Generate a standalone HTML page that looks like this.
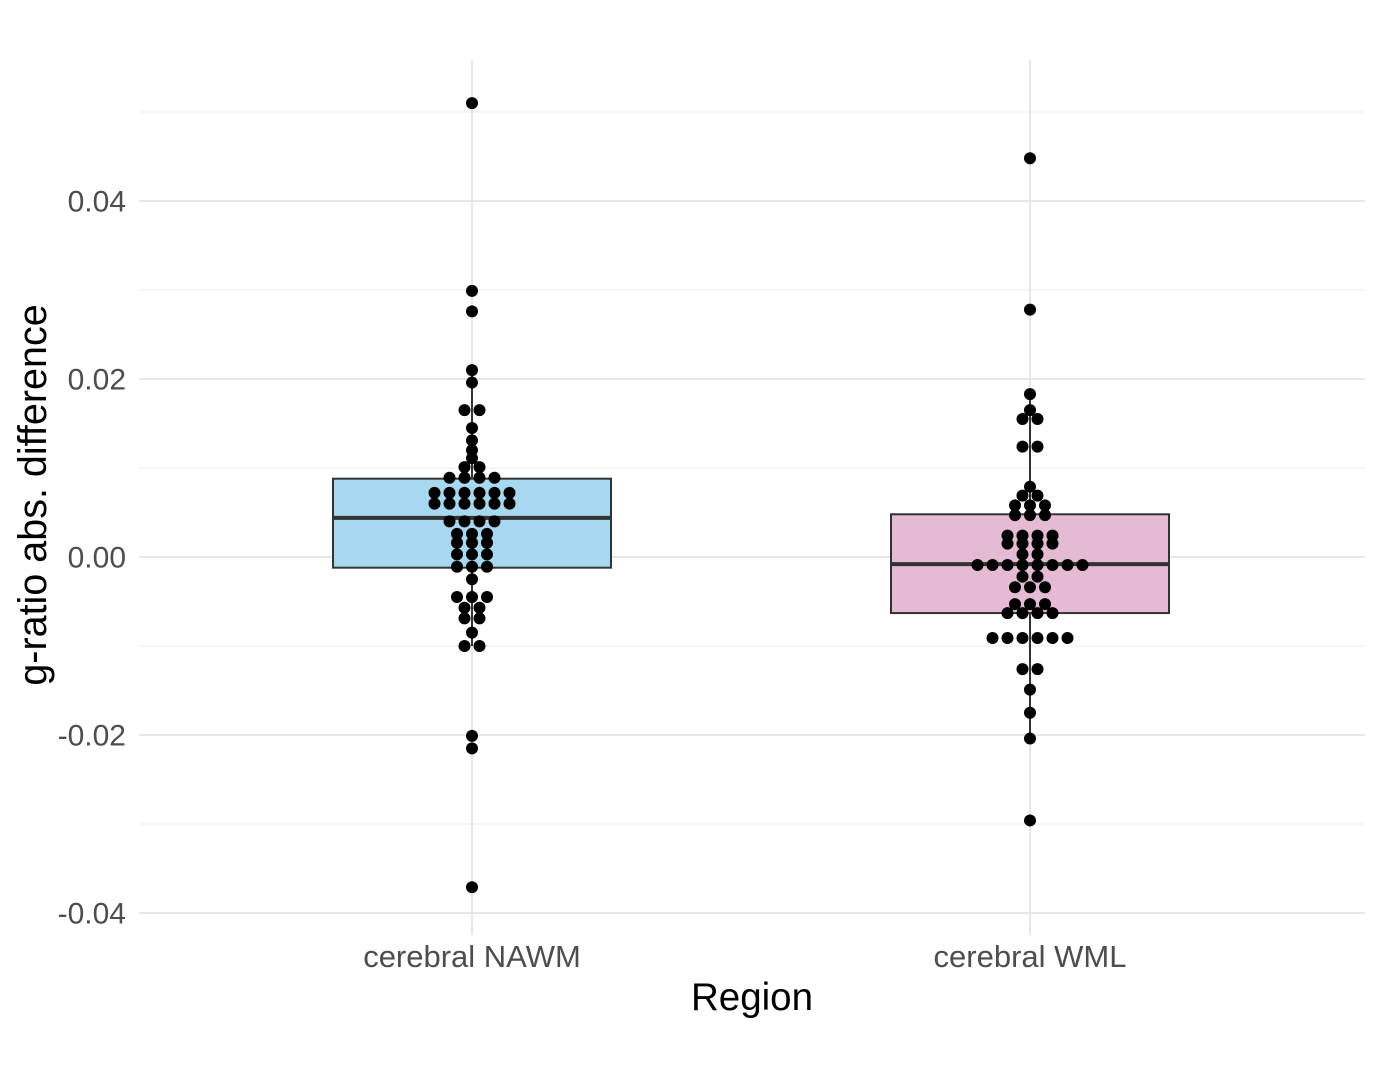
<!DOCTYPE html>
<html><head><meta charset="utf-8"><style>
html,body{margin:0;padding:0;background:#fff;}
svg{display:block;font-family:"Liberation Sans",Arial,sans-serif;}
</style></head><body>
<svg id="chart" width="1379" height="1086" viewBox="0 0 1379 1086"></svg>
<script>
const categories = ["cerebral NAWM", "cerebral WML"];
const boxFill = ["#a7d8f0", "#e5bbd3"];
const q1 = [-0.0012, -0.0063];
const medians = [0.0044, -0.0008];
const q3 = [0.0088, 0.0048];
const whiskerLow = [-0.0100, -0.0204];
const whiskerHigh = [0.0210, 0.0183];
const nawmValues = [0.0510,0.0299,0.0276,0.0210,0.0196,0.0165,0.0165,0.0145,0.0131,0.0120,0.0111,0.0101,0.0101,
 0.0089,0.0089,0.0089,0.0089,0.0072,0.0072,0.0072,0.0072,0.0072,0.0072,0.0060,0.0060,0.0060,0.0060,0.0060,0.0060,
 0.0040,0.0040,0.0040,0.0040,0.0026,0.0026,0.0026,0.0016,0.0016,0.0016,0.0003,0.0003,0.0003,-0.0011,-0.0011,-0.0011,
 -0.0025,-0.0045,-0.0045,-0.0045,-0.0057,-0.0057,-0.0069,-0.0069,-0.0085,-0.0100,-0.0100,-0.0201,-0.0215,-0.0371];
const wmlValues = [0.0448,0.0278,0.0183,0.0165,0.0155,0.0155,0.0124,0.0124,0.0079,0.0069,0.0069,0.0058,0.0058,0.0058,
 0.0047,0.0047,0.0047,0.0024,0.0024,0.0024,0.0024,0.0015,0.0015,0.0015,0.0015,0.0003,0.0003,
 -0.0009,-0.0009,-0.0009,-0.0009,-0.0009,-0.0009,-0.0009,-0.0009,-0.0022,-0.0022,-0.0034,-0.0034,-0.0034,
 -0.0053,-0.0053,-0.0053,-0.0063,-0.0063,-0.0063,-0.0063,-0.0091,-0.0091,-0.0091,-0.0091,-0.0091,-0.0091,
 -0.0126,-0.0126,-0.0149,-0.0175,-0.0204,-0.0296];
const pointSets = [nawmValues, wmlValues];
const yTicks = [0.04, 0.02, 0, -0.02, -0.04];
const yTickLabels = ["0.04", "0.02", "0.00", "-0.02", "-0.04"];
const yMinor = [0.05, 0.03, 0.01, -0.01, -0.03];

const NS = "http://www.w3.org/2000/svg";
const svg = document.getElementById("chart");
const X0 = 139, X1 = 1365, Y0 = 60, Y1 = 935;
const y = v => 557 - v * 8900;
const x = i => 472 + i * 558;
function el(tag, attrs, parent) {
  const e = document.createElementNS(NS, tag);
  for (const k in attrs) e.setAttribute(k, attrs[k]);
  (parent || svg).appendChild(e);
  return e;
}
yMinor.forEach(v => {
  const l = el("line", {x1: X0, x2: X1, y1: y(v), y2: y(v), stroke: "#f0f0f0", "stroke-width": 1.2});
  
  
});
yTicks.forEach((v, i) => {
  const l = el("line", {x1: X0, x2: X1, y1: y(v), y2: y(v), stroke: "#e6e6e6", "stroke-width": 2});
  
  
  const t = el("text", {x: 126, y: y(v) + 10.5, "text-anchor": "end", "font-size": 30, fill: "#4d4d4d"});
  t.textContent = yTickLabels[i];
  
  
});
categories.forEach((c, i) => {
  const l = el("line", {x1: x(i), x2: x(i), y1: Y0, y2: Y1, stroke: "#e6e6e6", "stroke-width": 2});
  
  
});
categories.forEach((c, i) => {
  const g = el("g", {});
  
  
  el("line", {x1: x(i), x2: x(i), y1: y(whiskerHigh[i]), y2: y(q3[i]), stroke: "#333", "stroke-width": 2}, g);
  el("line", {x1: x(i), x2: x(i), y1: y(q1[i]), y2: y(whiskerLow[i]), stroke: "#333", "stroke-width": 2}, g);
  el("rect", {x: x(i) - 139, y: y(q3[i]), width: 278, height: y(q1[i]) - y(q3[i]), fill: boxFill[i], stroke: "#333", "stroke-width": 2}, g);
  el("line", {x1: x(i) - 139, x2: x(i) + 139, y1: y(medians[i]), y2: y(medians[i]), stroke: "#333", "stroke-width": 4}, g);
  const t = el("text", {x: x(i), y: 967, "text-anchor": "middle", "font-size": 31, fill: "#4d4d4d"});
  t.textContent = c;
  
  
});
pointSets.forEach((vals, i) => {
  const groups = new Map();
  vals.forEach(v => { const k = v.toFixed(4); groups.set(k, (groups.get(k) || 0) + 1); });
  groups.forEach((n, k) => {
    const v = parseFloat(k);
    for (let j = 0; j < n; j++) {
      const cx = x(i) + (j - (n - 1) / 2) * 15;
      const d = el("circle", {cx: cx, cy: y(v), r: 6, fill: "#000"});
      
      
    }
  });
});
const xt = el("text", {x: 752, y: 1010, "text-anchor": "middle", "font-size": 38.5, fill: "#000"});
xt.textContent = "Region";


const yt = el("text", {x: 0, y: 0, "text-anchor": "middle", "font-size": 39.5, fill: "#000", transform: "translate(46,495) rotate(-90)"});
yt.textContent = "g-ratio abs. difference";


</script>
</body></html>
